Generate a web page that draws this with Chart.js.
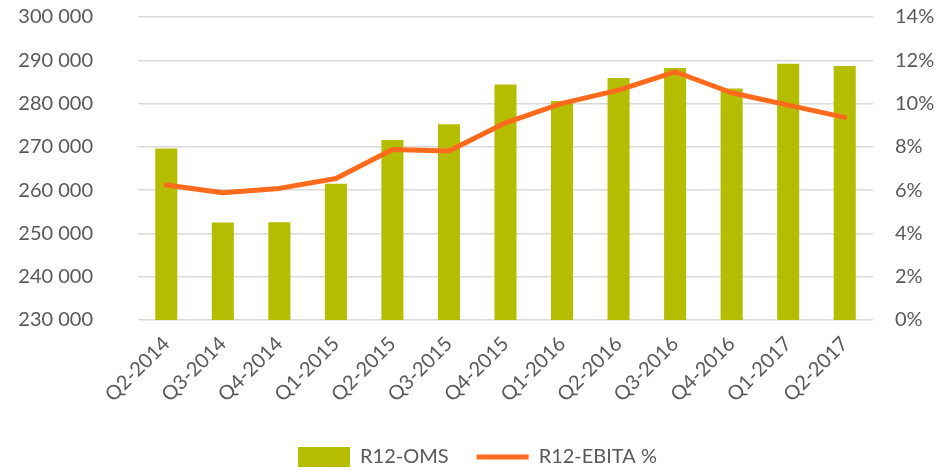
<!DOCTYPE html>
<html>
<head>
<meta charset="utf-8">
<script src="https://cdn.jsdelivr.net/npm/chart.js@4.4.0/dist/chart.umd.min.js"></script>
<style>
  html, body { margin: 0; padding: 0; background: #fff; }
  #wrap { width: 938px; height: 468px; position: relative; }
</style>
</head>
<body>
<div id="wrap"><canvas id="chart"></canvas></div>
<script>
// data
var quarters = ["Q2-2014", "Q3-2014", "Q4-2014", "Q1-2015", "Q2-2015", "Q3-2015", "Q4-2015",
  "Q1-2016", "Q2-2016", "Q3-2016", "Q4-2016", "Q1-2017", "Q2-2017"];
var r12Oms = [269600, 252500, 252600, 261500, 271600, 275200, 284400,
  280600, 285900, 288200, 283500, 289200, 288700];
var r12Ebita = [6.24, 5.88, 6.08, 6.54, 7.88, 7.81, 9.11,
  10.01, 10.62, 11.47, 10.5, 9.93, 9.36];

var grey = '#595959';
var gridGrey = '#d9d9d9';
Chart.defaults.font.family = 'Lato, "Open Sans", sans-serif';
Chart.defaults.font.size = 20;
Chart.defaults.color = grey;

// vertical scales add ticks.padding to their top/bottom padding, undo that
function fixVertical(width) {
  return function (s) {
    s.width = width;
    s.paddingTop = 17;
    s.paddingBottom = 12;
  };
}

// legend padding is used for both the gap between items and the height,
// keep the wide gap but make the box shorter
var legendHeight = {
  id: 'legendHeight',
  beforeLayout: function (chart) {
    var lg = chart.legend;
    if (lg && !lg._patched) {
      var fit = lg.fit;
      lg.fit = function () {
        fit.call(this);
        this.height = 49;
      };
      lg._patched = true;
    }
  }
};

var ctx = document.getElementById('chart').getContext('2d');
var chart = new Chart(ctx, {
  type: 'bar',
  data: {
    labels: quarters,
    datasets: [{
      type: 'line',
      label: 'R12-EBITA %',
      data: r12Ebita,
      yAxisID: 'y2',
      borderColor: '#ff6a1c',
      backgroundColor: '#ff6a1c',
      borderWidth: 5,
      borderCapStyle: 'round',
      borderJoinStyle: 'round',
      pointRadius: 0,
      pointStyle: 'line',
      tension: 0,
      order: 0
    }, {
      label: 'R12-OMS',
      data: r12Oms,
      yAxisID: 'y',
      backgroundColor: '#b5bd00',
      borderWidth: 0,
      pointStyle: 'rect',
      categoryPercentage: 1,
      barPercentage: 0.39,
      order: 1
    }]
  },
  plugins: [legendHeight],
  options: {
    responsive: true,
    maintainAspectRatio: false,
    animation: false,
    layout: { padding: { left: 17, right: 0, top: 0, bottom: 0 } },
    plugins: {
      tooltip: { enabled: false },
      legend: {
        position: 'bottom',
        reverse: true,
        labels: {
          usePointStyle: true,
          pointStyleWidth: 52,
          boxHeight: 20,
          padding: 28,
          color: grey,
          font: { size: 20 }
        }
      }
    },
    scales: {
      x: {
        afterFit: function (s) { s.height = 99; },
        grid: { display: false, drawTicks: false },
        border: { display: false },
        ticks: { minRotation: 45, maxRotation: 45, padding: 12, color: grey }
      },
      y: {
        position: 'left',
        min: 230000,
        max: 300000,
        afterFit: fixVertical(121),
        grid: { color: gridGrey, lineWidth: 1.5, drawTicks: false },
        border: { display: false },
        ticks: {
          stepSize: 10000,
          padding: 45,
          color: grey,
          callback: function (v) {
            return String(v).replace(/\B(?=(\d{3})+(?!\d))/g, ' ');
          }
        }
      },
      y2: {
        position: 'right',
        min: 0,
        max: 14,
        afterFit: fixVertical(65),
        grid: { display: false, drawTicks: false },
        border: { display: false },
        ticks: {
          stepSize: 2,
          padding: 22,
          color: grey,
          callback: function (v) { return v + '%'; }
        }
      }
    }
  }
});
</script>
</body>
</html>
